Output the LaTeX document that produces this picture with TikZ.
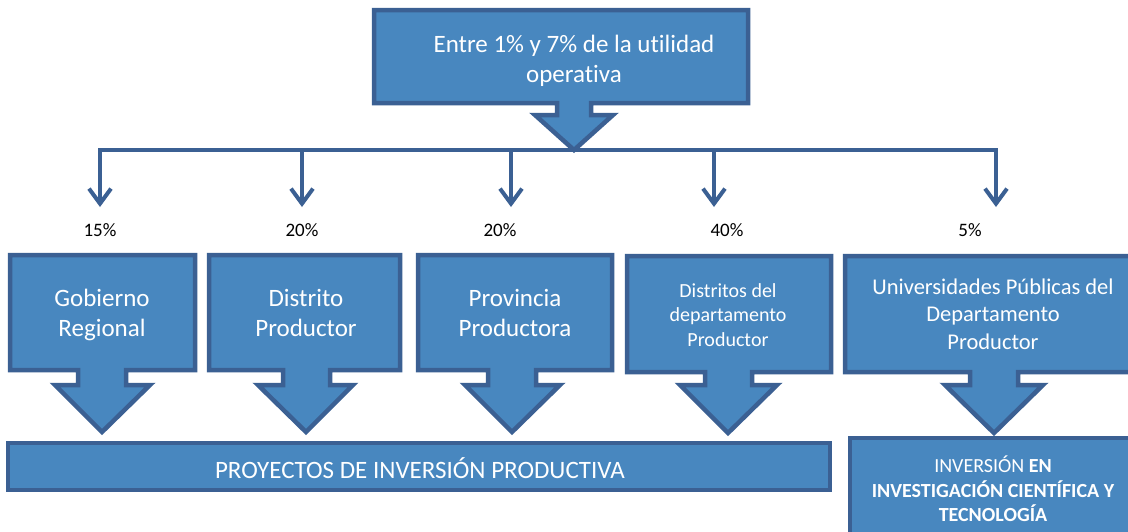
\documentclass[tikz,border=0pt]{standalone}
\usepackage{fontspec}
\setmainfont{Carlito}[Ligatures=NoCommon]
\usetikzlibrary{arrows.meta}
\definecolor{boxfill}{HTML}{4887BF}
\definecolor{boxline}{HTML}{3B6093}
\begin{document}
\begin{tikzpicture}[x=1pt,y=-1pt,
  callout/.style={fill=boxfill,draw=boxline,line width=4.5pt,line join=miter},
  wtext/.style={text=white,align=center,inner sep=0pt},
  big/.style={font=\fontsize{25}{30.5}\selectfont},
  mid/.style={font=\fontsize{22.5}{27.5}\selectfont},
  small/.style={font=\fontsize{20}{24.5}\selectfont},
  pct/.style={font=\fontsize{19}{22}\selectfont,text=black,inner sep=0pt},
  conn/.style={draw=boxline,line width=4pt},
  drop/.style={conn,-{Straight Barb[length=15pt,width=22pt]}}]
\clip (0,0) rectangle (1128,531);
\fill[white] (0,0) rectangle (1128,531);
% top callout
\draw[callout] (374,10) -- (748,10) -- (748,103) -- (591,103) -- (591,115) -- (613,115)
  -- (574,150) -- (535,115) -- (557,115) -- (557,103) -- (374,103) -- cycle;
\node[wtext,big] (top) at (574,61) {Entre 1\% y 7\% de la utilidad\\operativa};
% branch line
\coordinate (j1) at (100,150);
\coordinate (j2) at (302,150);
\coordinate (j3) at (511,150);
\coordinate (j4) at (714,150);
\coordinate (j5) at (996,150);
\coordinate (a1) at (100,207);
\coordinate (a2) at (302,207);
\coordinate (a3) at (511,207);
\coordinate (a4) at (714,207);
\coordinate (a5) at (996,207);
\draw[conn,line cap=rect] (j1) -- (j5);
\foreach \i in {1,...,5}{\draw[drop] (j\i) -- (a\i);}
% percentages
\node[pct] (p1) at (100,230) {15\%};
\node[pct] (p2) at (302,230) {20\%};
\node[pct] (p3) at (500,230) {20\%};
\node[pct] (p4) at (727,230) {40\%};
\node[pct] (p5) at (970,230) {5\%};
% callouts row
\draw[callout] (10,255) -- (195,255) -- (195,370) -- (126,370) -- (126,385) -- (150,385)
  -- (102,432) -- (55,385) -- (78,385) -- (78,370) -- (10,370) -- cycle;
\draw[callout] (209,255) -- (400,255) -- (400,370) -- (330,370) -- (330,385) -- (353,385)
  -- (306,432) -- (258,385) -- (283,385) -- (283,370) -- (209,370) -- cycle;
\draw[callout] (418,255) -- (612,255) -- (612,370) -- (536,370) -- (536,385) -- (560,385)
  -- (512,432) -- (465,385) -- (488,385) -- (488,370) -- (418,370) -- cycle;
\draw[callout] (627,256) -- (831,256) -- (831,372) -- (752,372) -- (752,385) -- (777,385)
  -- (728,433) -- (680,385) -- (705,385) -- (705,372) -- (627,372) -- cycle;
\draw[callout] (845,256) -- (1140,256) -- (1140,372) -- (1018,372) -- (1018,385) -- (1043,385)
  -- (994,433) -- (945,385) -- (970,385) -- (970,372) -- (845,372) -- cycle;
\node[wtext,big] (gob) at (102,315) {Gobierno\\Regional};
\node[wtext,big] (dis) at (306,313) {Distrito\\Productor};
\node[wtext,big] (pro) at (515,313) {Provincia\\Productora};
\node[wtext,small] (dep) at (728,315) {Distritos del\\departamento\\Productor};
\node[wtext,mid] (uni) at (993,314) {Universidades Públicas del\\Departamento\\Productor};
% bottom boxes
\draw[callout] (8,443) rectangle (830,490);
\node[wtext,big] (proy) at (420,468) {PROYECTOS DE INVERSIÓN PRODUCTIVA};
\draw[callout] (850,438) rectangle (1140,545);
\node[wtext,small] (inv) at (993,489) {INVERSIÓN \textbf{EN}\\\textbf{INVESTIGACIÓN CIENTÍFICA Y}\\\textbf{TECNOLOGÍA}};
\end{tikzpicture}
\end{document}
